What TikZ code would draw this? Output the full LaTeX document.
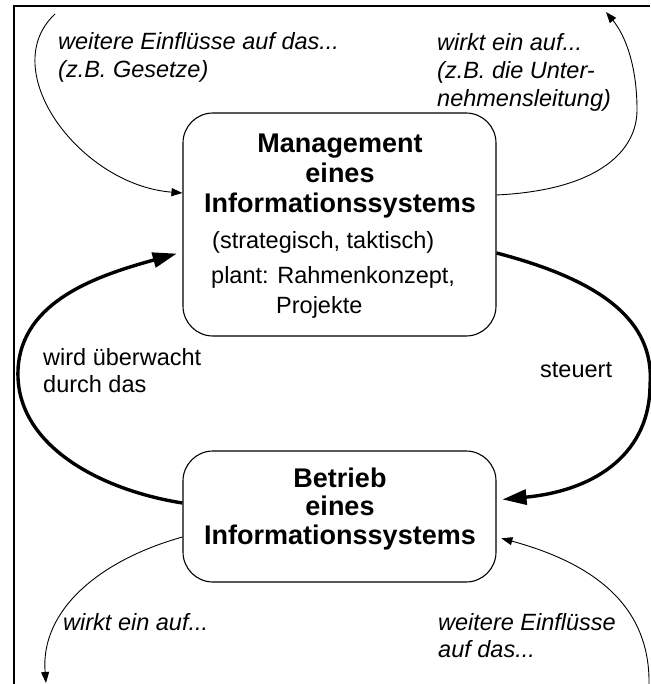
\documentclass[tikz,border=0pt]{standalone}
\usepackage{fontspec}
\setmainfont{Liberation Sans}
\usetikzlibrary{arrows.meta}
\tikzset{
  frameline/.style={line width=2pt},
  sysbox/.style={draw, line width=1.1pt, rounded corners=30pt, inner sep=0pt},
  titletext/.style={font=\fontsize{27}{30}\selectfont\bfseries, align=center, anchor=base, inner sep=0pt},
  bodytext/.style={font=\fontsize{23.5}{28}\selectfont, align=left, anchor=base west, inner sep=0pt},
  notetext/.style={font=\fontsize{23.5}{28.3}\selectfont\itshape, align=left, anchor=base west, inner sep=0pt},
  thinarrow/.style={line width=0.9pt, -{Triangle[length=11pt,width=8pt]}},
  thickarrow/.style={line width=3.4pt, -{Triangle[length=24pt,width=15pt]}},
}
\begin{document}
\begin{tikzpicture}[x=1pt,y=-1pt]
\useasboundingbox (0,0) rectangle (650,684);
\draw[frameline] (650,6.5) -| (13.5,684);

% boxes
\node[sysbox, minimum width=313pt, minimum height=223pt] (mgmt) at (339.5,224.5) {};
\node[sysbox, minimum width=313pt, minimum height=131pt] (betr) at (339.5,516.5) {};

% box texts (base = baseline of the last line)
\node[titletext] (mtitle) at (340,213) {Management\\eines\\Informationssystems};
\node[bodytext] (mstrat) at (212,248) {(strategisch, taktisch)};
\node[bodytext] (mplant) at (211,283) {plant: Rahmenkonzept,};
\node[bodytext] (mproj) at (276,313) {Projekte};
\node[titletext, font=\fontsize{27}{28.5}\selectfont\bfseries] (btitle) at (340,544) {Betrieb\\eines\\Informationssystems};

% labels
\node[notetext] (tl) at (58,78) {weitere Einflüsse auf das...\\(z.B. Gesetze)};
\node[notetext] (tr) at (437,107) {wirkt ein auf...\\(z.B. die Unter-\\nehmensleitung)};
\node[notetext] (bl) at (63,630) {wirkt ein auf...};
\node[notetext, font=\fontsize{23.5}{27}\selectfont\itshape] (br) at (438,657) {weitere Einflüsse\\auf das...};
\node[bodytext, font=\fontsize{23.5}{27}\selectfont] (wird) at (43,392) {wird überwacht\\durch das};
\node[bodytext] (steu) at (540,377) {steuert};

% free ends
\coordinate (tlstart) at (55,14);
\coordinate (trend) at (606,12);
\coordinate (blend) at (46,683);
\coordinate (brstart) at (649,684);

% thin arrows
\draw[thinarrow] (tlstart) .. controls (-5,70) and (80,185) .. ([yshift=31.5pt]mgmt.west);
\draw[thinarrow] ([yshift=29.5pt]mgmt.east) .. controls (600,190) and (637,150) .. (637,110)
   .. controls (637,65) and (625,35) .. (trend);
\draw[thinarrow] ([yshift=-20.5pt]betr.west) .. controls (100,560) and (40,610) .. (blend);
\draw[thinarrow, shorten >=5pt] (brstart) .. controls (650,610) and (600,565) .. ([yshift=-20.5pt]betr.east);

% thick arrows
\draw[thickarrow, shorten >=6pt] ([yshift=-28.5pt]mgmt.east) .. controls (600,280) and (655,320) .. (650,385)
   .. controls (650,450) and (600,490) .. ([yshift=16.5pt]betr.east);
\draw[thickarrow, shorten >=6pt] ([yshift=13.5pt]betr.west) .. controls (100,490) and (15,445) .. (18,370)
   .. controls (21,300) and (100,275) .. ([yshift=-27.5pt]mgmt.west);
\end{tikzpicture}
\end{document}
